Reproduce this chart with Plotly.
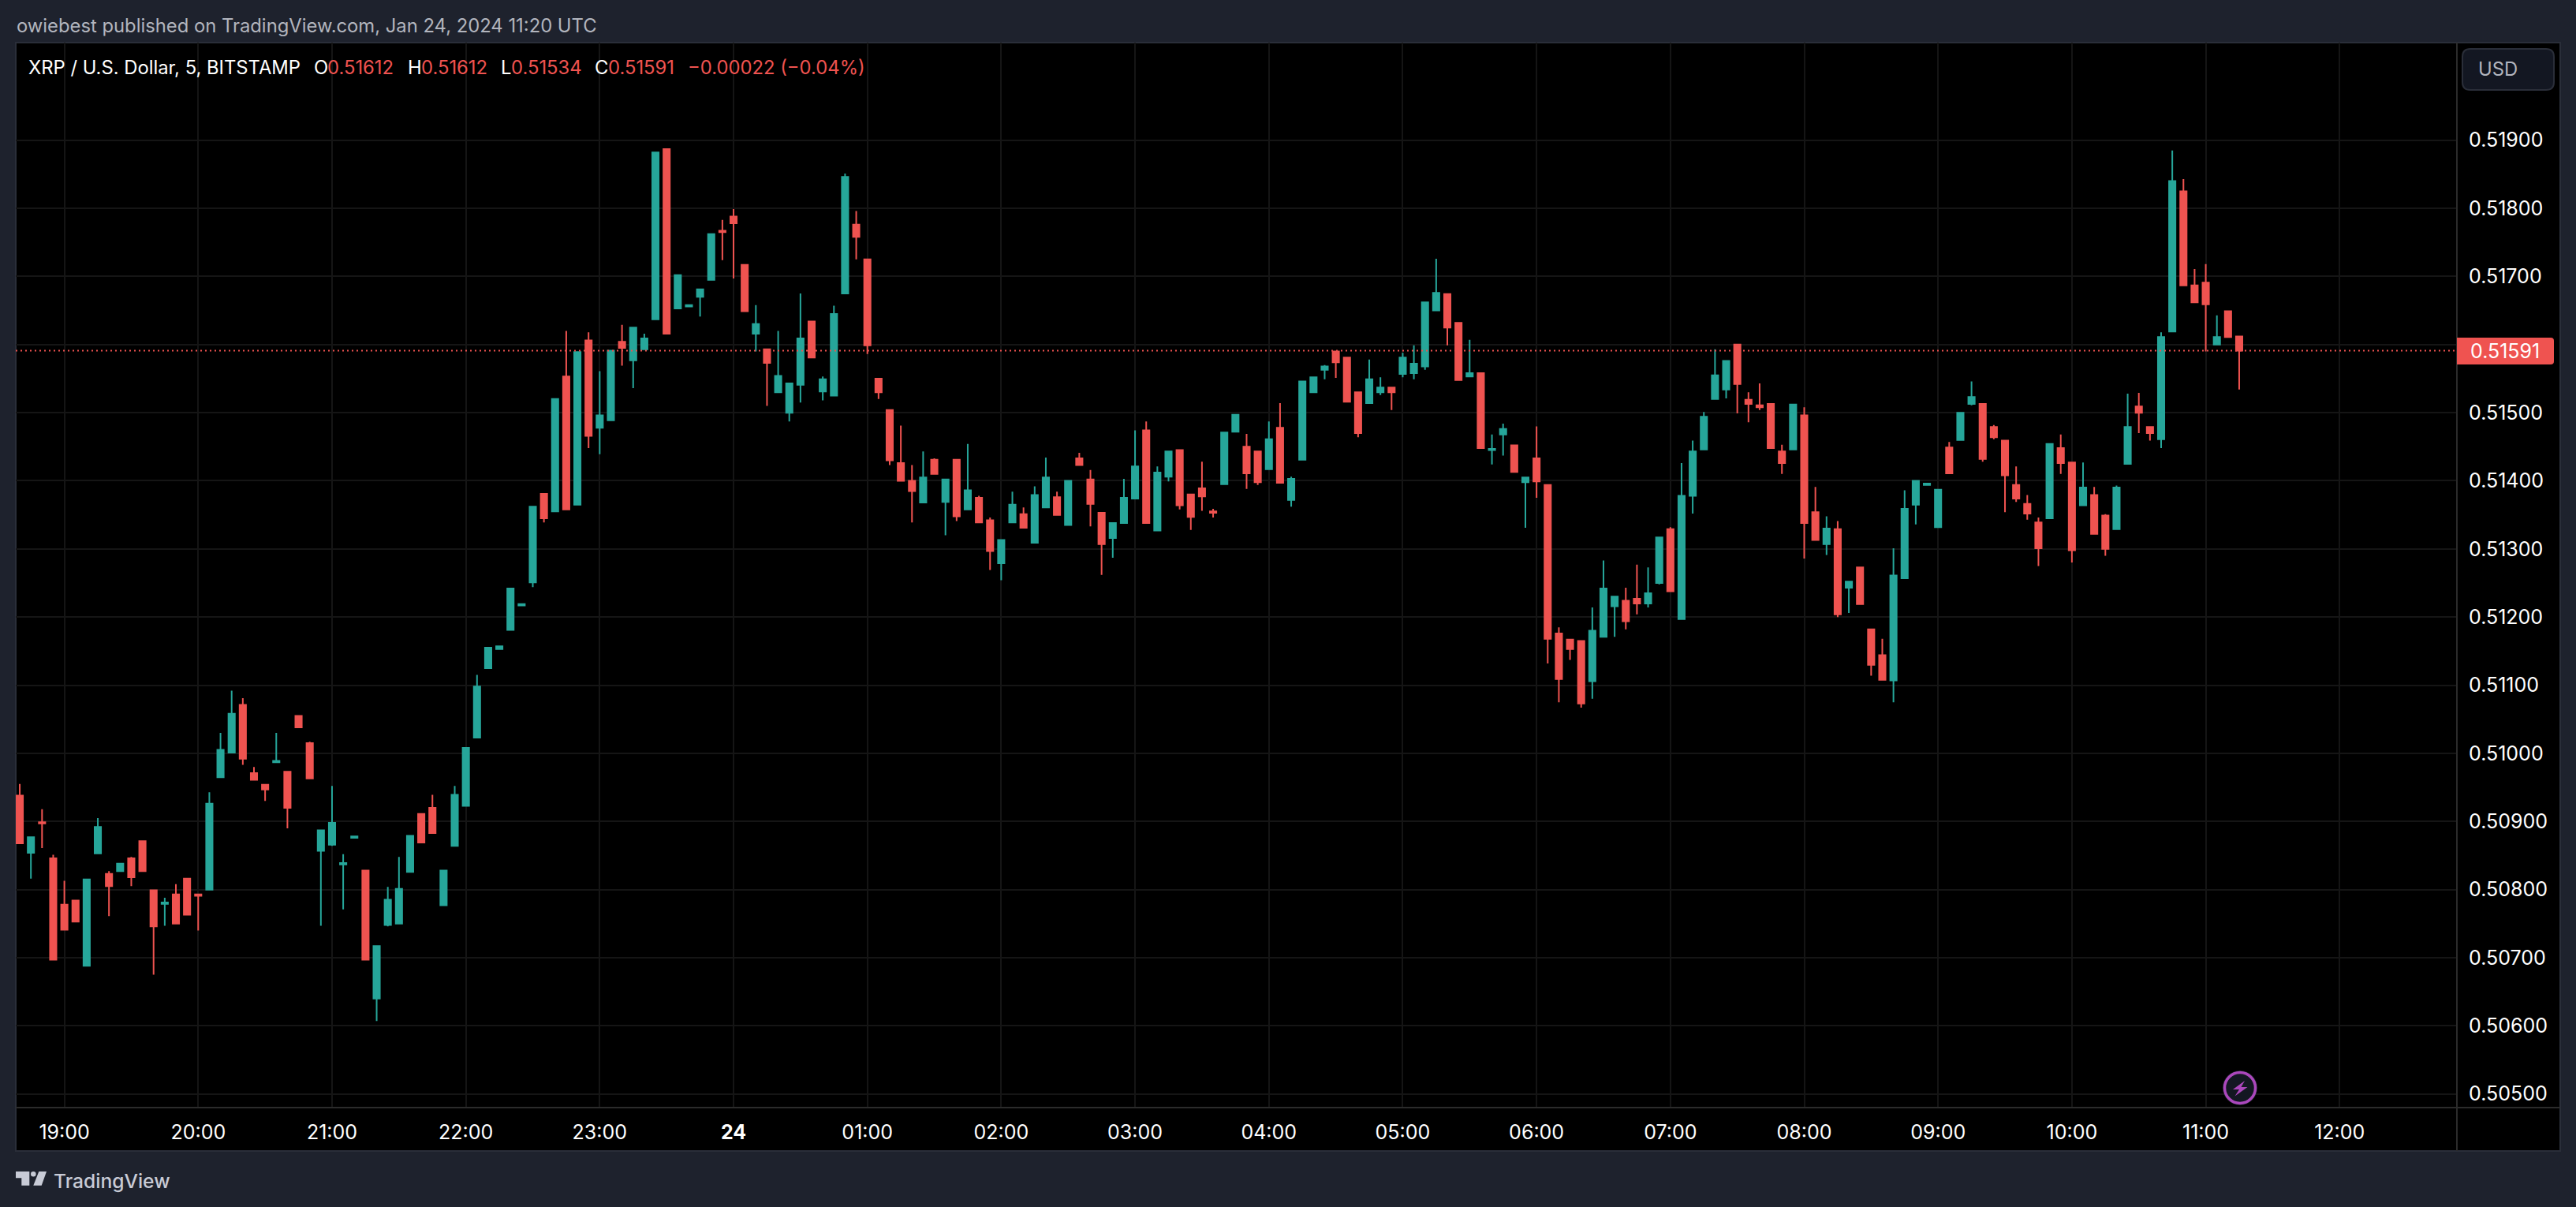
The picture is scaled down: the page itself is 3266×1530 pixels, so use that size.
import pandas as pd
import plotly.graph_objects as go

TIMES = pd.date_range("2024-01-23 18:40", periods=200, freq="5min")

OPENS = [
    0.50938, 0.50854, 0.50899, 0.50846, 0.50778, 0.50784, 0.50688, 0.50853, 0.50823, 0.50827,
    0.50846, 0.50871, 0.50799, 0.50779, 0.50793, 0.50816, 0.50793, 0.50800, 0.50965, 0.51001,
    0.51071, 0.50971, 0.50954, 0.50987, 0.50973, 0.51055, 0.51015, 0.50857, 0.50866, 0.50837,
    0.50876, 0.50828, 0.50640, 0.50748, 0.50750, 0.50826, 0.50911, 0.50920, 0.50777, 0.50864,
    0.50923, 0.51023, 0.51125, 0.51153, 0.51181, 0.51217, 0.51251, 0.51381, 0.51355, 0.51553,
    0.51365, 0.51606, 0.51478, 0.51489, 0.51604, 0.51577, 0.51593, 0.51637, 0.51887, 0.51653,
    0.51656, 0.51670, 0.51695, 0.51767, 0.51788, 0.51717, 0.51616, 0.51593, 0.51530, 0.51500,
    0.51541, 0.51634, 0.51531, 0.51525, 0.51675, 0.51776, 0.51725, 0.51550, 0.51504, 0.51426,
    0.51400, 0.51368, 0.51431, 0.51369, 0.51431, 0.51358, 0.51375, 0.51342, 0.51279, 0.51339,
    0.51351, 0.51309, 0.51361, 0.51376, 0.51335, 0.51433, 0.51402, 0.51353, 0.51316, 0.51338,
    0.51374, 0.51474, 0.51327, 0.51406, 0.51445, 0.51380, 0.51389, 0.51355, 0.51395, 0.51472,
    0.51450, 0.51443, 0.51417, 0.51478, 0.51372, 0.51431, 0.51530, 0.51563, 0.51590, 0.51581,
    0.51530, 0.51514, 0.51530, 0.51537, 0.51557, 0.51558, 0.51568, 0.51650, 0.51674, 0.51632,
    0.51553, 0.51558, 0.51445, 0.51468, 0.51452, 0.51398, 0.51433, 0.51394, 0.51176, 0.51167,
    0.51165, 0.51106, 0.51171, 0.51216, 0.51224, 0.51227, 0.51220, 0.51250, 0.51329, 0.51197,
    0.51378, 0.51446, 0.51520, 0.51534, 0.51600, 0.51519, 0.51511, 0.51513, 0.51443, 0.51446,
    0.51496, 0.51354, 0.51307, 0.51329, 0.51243, 0.51273, 0.51182, 0.51144, 0.51107, 0.51257,
    0.51365, 0.51394, 0.51332, 0.51449, 0.51460, 0.51513, 0.51513, 0.51479, 0.51459, 0.51394,
    0.51366, 0.51339, 0.51345, 0.51448, 0.51427, 0.51364, 0.51379, 0.51349, 0.51329, 0.51425,
    0.51509, 0.51479, 0.51461, 0.51619, 0.51825, 0.51687, 0.51691, 0.51600, 0.51649, 0.51612,
]
HIGHS = [
    0.50955, 0.50877, 0.50918, 0.50851, 0.50813, 0.50784, 0.50815, 0.50905, 0.50827, 0.50838,
    0.50848, 0.50872, 0.50799, 0.50788, 0.50808, 0.50816, 0.50793, 0.50943, 0.51030, 0.51092,
    0.51081, 0.50980, 0.50954, 0.51030, 0.50973, 0.51055, 0.51017, 0.50887, 0.50952, 0.50852,
    0.50878, 0.50828, 0.50717, 0.50804, 0.50848, 0.50879, 0.50911, 0.50939, 0.50828, 0.50952,
    0.51008, 0.51115, 0.51155, 0.51157, 0.51242, 0.51219, 0.51362, 0.51381, 0.51520, 0.51620,
    0.51589, 0.51618, 0.51561, 0.51591, 0.51629, 0.51625, 0.51616, 0.51882, 0.51887, 0.51702,
    0.51658, 0.51681, 0.51762, 0.51783, 0.51799, 0.51717, 0.51658, 0.51593, 0.51620, 0.51543,
    0.51675, 0.51634, 0.51553, 0.51657, 0.51851, 0.51796, 0.51725, 0.51550, 0.51504, 0.51481,
    0.51423, 0.51443, 0.51433, 0.51402, 0.51431, 0.51454, 0.51378, 0.51346, 0.51313, 0.51384,
    0.51361, 0.51392, 0.51434, 0.51384, 0.51400, 0.51441, 0.51416, 0.51353, 0.51338, 0.51403,
    0.51474, 0.51487, 0.51421, 0.51443, 0.51445, 0.51380, 0.51428, 0.51359, 0.51471, 0.51497,
    0.51469, 0.51443, 0.51487, 0.51514, 0.51406, 0.51546, 0.51553, 0.51570, 0.51591, 0.51581,
    0.51530, 0.51578, 0.51552, 0.51538, 0.51588, 0.51599, 0.51662, 0.51726, 0.51674, 0.51632,
    0.51607, 0.51558, 0.51468, 0.51484, 0.51452, 0.51405, 0.51480, 0.51394, 0.51185, 0.51168,
    0.51165, 0.51214, 0.51283, 0.51230, 0.51243, 0.51277, 0.51273, 0.51317, 0.51332, 0.51426,
    0.51459, 0.51501, 0.51593, 0.51576, 0.51600, 0.51530, 0.51543, 0.51513, 0.51453, 0.51512,
    0.51508, 0.51391, 0.51348, 0.51341, 0.51252, 0.51273, 0.51182, 0.51168, 0.51301, 0.51386,
    0.51400, 0.51396, 0.51387, 0.51457, 0.51500, 0.51546, 0.51513, 0.51482, 0.51459, 0.51421,
    0.51379, 0.51346, 0.51454, 0.51468, 0.51427, 0.51427, 0.51391, 0.51351, 0.51393, 0.51528,
    0.51529, 0.51480, 0.51618, 0.51885, 0.51843, 0.51711, 0.51718, 0.51643, 0.51649, 0.51612,
]
LOWS = [
    0.50868, 0.50816, 0.50861, 0.50697, 0.50741, 0.50753, 0.50688, 0.50853, 0.50761, 0.50827,
    0.50805, 0.50827, 0.50675, 0.50747, 0.50750, 0.50763, 0.50740, 0.50800, 0.50965, 0.51001,
    0.50983, 0.50961, 0.50930, 0.50986, 0.50890, 0.51038, 0.50963, 0.50747, 0.50864, 0.50771,
    0.50876, 0.50697, 0.50607, 0.50746, 0.50750, 0.50826, 0.50869, 0.50883, 0.50777, 0.50864,
    0.50923, 0.51023, 0.51125, 0.51153, 0.51181, 0.51217, 0.51244, 0.51339, 0.51355, 0.51358,
    0.51365, 0.51448, 0.51439, 0.51489, 0.51569, 0.51536, 0.51593, 0.51637, 0.51616, 0.51653,
    0.51656, 0.51641, 0.51695, 0.51724, 0.51697, 0.51649, 0.51590, 0.51510, 0.51530, 0.51487,
    0.51515, 0.51581, 0.51518, 0.51525, 0.51675, 0.51725, 0.51586, 0.51520, 0.51423, 0.51400,
    0.51339, 0.51368, 0.51410, 0.51320, 0.51341, 0.51358, 0.51339, 0.51269, 0.51254, 0.51339,
    0.51331, 0.51309, 0.51361, 0.51350, 0.51335, 0.51422, 0.51333, 0.51262, 0.51287, 0.51337,
    0.51374, 0.51338, 0.51327, 0.51399, 0.51358, 0.51328, 0.51356, 0.51346, 0.51395, 0.51472,
    0.51388, 0.51394, 0.51417, 0.51397, 0.51362, 0.51431, 0.51530, 0.51549, 0.51551, 0.51516,
    0.51464, 0.51514, 0.51526, 0.51504, 0.51552, 0.51549, 0.51563, 0.51650, 0.51599, 0.51548,
    0.51553, 0.51448, 0.51424, 0.51437, 0.51413, 0.51331, 0.51375, 0.51132, 0.51075, 0.51137,
    0.51067, 0.51080, 0.51171, 0.51171, 0.51182, 0.51204, 0.51214, 0.51248, 0.51238, 0.51197,
    0.51352, 0.51446, 0.51520, 0.51521, 0.51499, 0.51486, 0.51504, 0.51447, 0.51410, 0.51446,
    0.51286, 0.51313, 0.51291, 0.51200, 0.51206, 0.51219, 0.51114, 0.51108, 0.51075, 0.51257,
    0.51336, 0.51394, 0.51332, 0.51411, 0.51460, 0.51511, 0.51428, 0.51461, 0.51354, 0.51369,
    0.51343, 0.51275, 0.51345, 0.51410, 0.51280, 0.51364, 0.51322, 0.51290, 0.51329, 0.51425,
    0.51470, 0.51459, 0.51448, 0.51619, 0.51687, 0.51662, 0.51590, 0.51600, 0.51611, 0.51534,
]
CLOSES = [
    0.50868, 0.50877, 0.50897, 0.50697, 0.50741, 0.50753, 0.50815, 0.50892, 0.50805, 0.50838,
    0.50818, 0.50827, 0.50746, 0.50781, 0.50750, 0.50763, 0.50791, 0.50926, 0.51005, 0.51058,
    0.50992, 0.50961, 0.50947, 0.50989, 0.50920, 0.51038, 0.50963, 0.50887, 0.50898, 0.50839,
    0.50878, 0.50697, 0.50717, 0.50785, 0.50801, 0.50879, 0.50869, 0.50883, 0.50828, 0.50939,
    0.51008, 0.51098, 0.51155, 0.51157, 0.51242, 0.51219, 0.51362, 0.51345, 0.51520, 0.51358,
    0.51589, 0.51466, 0.51496, 0.51591, 0.51595, 0.51625, 0.51609, 0.51882, 0.51616, 0.51702,
    0.51658, 0.51681, 0.51762, 0.51765, 0.51778, 0.51649, 0.51630, 0.51573, 0.51554, 0.51543,
    0.51609, 0.51581, 0.51549, 0.51645, 0.51846, 0.51758, 0.51599, 0.51530, 0.51430, 0.51400,
    0.51385, 0.51405, 0.51410, 0.51402, 0.51348, 0.51386, 0.51339, 0.51297, 0.51313, 0.51365,
    0.51331, 0.51379, 0.51405, 0.51350, 0.51400, 0.51423, 0.51366, 0.51307, 0.51338, 0.51375,
    0.51421, 0.51338, 0.51412, 0.51443, 0.51364, 0.51347, 0.51377, 0.51353, 0.51471, 0.51497,
    0.51411, 0.51398, 0.51461, 0.51397, 0.51403, 0.51546, 0.51552, 0.51568, 0.51574, 0.51516,
    0.51470, 0.51549, 0.51537, 0.51530, 0.51581, 0.51572, 0.51662, 0.51676, 0.51625, 0.51548,
    0.51558, 0.51448, 0.51447, 0.51476, 0.51413, 0.51405, 0.51399, 0.51168, 0.51109, 0.51153,
    0.51073, 0.51180, 0.51242, 0.51230, 0.51194, 0.51220, 0.51235, 0.51317, 0.51238, 0.51378,
    0.51443, 0.51494, 0.51555, 0.51576, 0.51542, 0.51513, 0.51508, 0.51448, 0.51426, 0.51512,
    0.51338, 0.51313, 0.51330, 0.51204, 0.51252, 0.51219, 0.51130, 0.51108, 0.51261, 0.51359,
    0.51400, 0.51396, 0.51387, 0.51411, 0.51500, 0.51523, 0.51432, 0.51464, 0.51408, 0.51374,
    0.51352, 0.51301, 0.51454, 0.51426, 0.51298, 0.51390, 0.51322, 0.51300, 0.51390, 0.51479,
    0.51500, 0.51470, 0.51611, 0.51840, 0.51687, 0.51662, 0.51659, 0.51611, 0.51611, 0.51591,
]

PRICE_TICKS = [0.505, 0.506, 0.507, 0.508, 0.509, 0.510, 0.511, 0.512, 0.513, 0.514, 0.515, 0.516, 0.517, 0.518, 0.519]
PRICE_LABELS = ["0.50500", "0.50600", "0.50700", "0.50800", "0.50900", "0.51000", "0.51100", "0.51200",
                "0.51300", "0.51400", "0.51500", "", "0.51700", "0.51800", "0.51900"]
TIME_TICKS = ["2024-01-23 19:00", "2024-01-23 20:00", "2024-01-23 21:00", "2024-01-23 22:00", "2024-01-23 23:00",
              "2024-01-24 00:00", "2024-01-24 01:00", "2024-01-24 02:00", "2024-01-24 03:00", "2024-01-24 04:00",
              "2024-01-24 05:00", "2024-01-24 06:00", "2024-01-24 07:00", "2024-01-24 08:00", "2024-01-24 09:00",
              "2024-01-24 10:00", "2024-01-24 11:00", "2024-01-24 12:00"]
TIME_LABELS = ["19:00", "20:00", "21:00", "22:00", "23:00", "<b>24</b>", "01:00", "02:00", "03:00", "04:00",
               "05:00", "06:00", "07:00", "08:00", "09:00", "10:00", "11:00", "12:00"]
LAST_PRICE = 0.51591

W, H = 3266, 1530
LEFT, RIGHT, TOP, BOTTOM = 20, 3115, 54, 1404
FRAME_R, FRAME_B = 3246, 1459

GREEN = "#26a69a"
RED = "#ef5350"
BG = "#1e222d"
BORDER = "#2a2e39"
LOGO = "#c8cbd6"
FONT = "Inter"


def px(x):
    return (x - LEFT) / (RIGHT - LEFT)


def py(y):
    return 1 - (y - TOP) / (BOTTOM - TOP)


def label(x, y, text, color, size=23.8, anchor="left", weight=None):
    return dict(xref="paper", yref="paper", x=px(x - 2), y=py(y), text=text, showarrow=False,
                xanchor=anchor, yanchor="middle", font=dict(family=FONT, size=size, color=color, weight=weight))


def box(x0, y0, x1, y1, fill=None, line=None, width=2, layer="below"):
    return dict(type="rect", xref="paper", yref="paper", x0=px(x0), y0=py(y0), x1=px(x1), y1=py(y1),
                fillcolor=fill or "rgba(0,0,0,0)", line=dict(color=line or "rgba(0,0,0,0)", width=width), layer=layer)


def path(points, fill):
    d = "M" + " L".join(f"{px(x):.6f},{py(y):.6f}" for x, y in points) + " Z"
    return dict(type="path", xref="paper", yref="paper", path=d, fillcolor=fill, line=dict(width=0), layer="above")


def circle(cx, cy, r, fill, line=None, width=0):
    return dict(type="circle", xref="paper", yref="paper", x0=px(cx - r), x1=px(cx + r), y0=py(cy + r), y1=py(cy - r),
                fillcolor=fill, line=dict(color=line or "rgba(0,0,0,0)", width=width), layer="above")


def rounded(x0, y0, x1, y1, r, fill, line=None, radius_left=True):
    rl = r if radius_left else 0
    d = (f"M{px(x0 + rl):.6f},{py(y0):.6f} L{px(x1 - r):.6f},{py(y0):.6f} "
         f"Q{px(x1):.6f},{py(y0):.6f} {px(x1):.6f},{py(y0 + r):.6f} "
         f"L{px(x1):.6f},{py(y1 - r):.6f} Q{px(x1):.6f},{py(y1):.6f} {px(x1 - r):.6f},{py(y1):.6f} "
         f"L{px(x0 + rl):.6f},{py(y1):.6f} Q{px(x0):.6f},{py(y1):.6f} {px(x0):.6f},{py(y1 - rl):.6f} "
         f"L{px(x0):.6f},{py(y0 + rl):.6f} Q{px(x0):.6f},{py(y0):.6f} {px(x0 + rl):.6f},{py(y0):.6f} Z")
    return dict(type="path", xref="paper", yref="paper", path=d, fillcolor=fill,
                line=dict(color=line or "rgba(0,0,0,0)", width=2), layer="above")


fig = go.Figure(go.Candlestick(
    x=TIMES, open=OPENS, high=HIGHS, low=LOWS, close=CLOSES,
    increasing=dict(line=dict(color=GREEN, width=2), fillcolor=GREEN),
    decreasing=dict(line=dict(color=RED, width=2), fillcolor=RED),
    whiskerwidth=0, showlegend=False, hoverinfo="skip",
))

shapes = [
    box(LEFT, TOP, FRAME_R, FRAME_B, fill="#000000", line=BORDER),
    dict(type="line", xref="paper", yref="paper", x0=px(RIGHT), x1=px(RIGHT), y0=py(TOP), y1=py(FRAME_B),
         line=dict(color="#2b2b2b", width=2), layer="above"),
    dict(type="line", xref="paper", yref="paper", x0=px(LEFT), x1=px(FRAME_R), y0=py(BOTTOM), y1=py(BOTTOM),
         line=dict(color="#2b2b2b", width=2), layer="above"),
    dict(type="line", xref="paper", yref="y", x0=0, x1=1, y0=LAST_PRICE, y1=LAST_PRICE,
         line=dict(color=RED, width=2, dash="2px,4px"), layer="above"),
    rounded(3115, 428, 3238, 462, 4, RED, radius_left=False),
    rounded(3122, 62, 3238, 114, 10, "#131722", BORDER),
    # lightning badge
    circle(2840, 1379, 22, BG),
    circle(2840, 1379, 19.5, "#131722", "#ab47bc", 3.5),
    path([(2846, 1370), (2831, 1381), (2839, 1381), (2833.5, 1389.5), (2849.5, 1378), (2841.5, 1378)], "#ab47bc"),
    # TradingView mark
    path([(20, 1485), (37.3, 1485), (37.3, 1502.7), (27.3, 1502.7), (27.3, 1493.3), (20, 1493.3)], LOGO),
    circle(42.3, 1488.3, 3.3, LOGO),
    path([(49.3, 1485), (59, 1485), (52.7, 1502.7), (42.3, 1502.7)], LOGO),
]

annotations = [
    label(21, 32, "owiebest published on TradingView.com, Jan 24, 2024 11:20 UTC", "#b2b5be"),
    label(36, 86, "XRP / U.S. Dollar, 5, BITSTAMP", "#ffffff"),
    label(398, 86, "O", "#ffffff"),
    label(415, 86, "0.51612", RED),
    label(517, 86, "H", "#ffffff"),
    label(534, 86, "0.51612", RED),
    label(635, 86, "L", "#ffffff"),
    label(648, 86, "0.51534", RED),
    label(754, 86, "C", "#ffffff"),
    label(771, 86, "0.51591", RED),
    label(872, 86, "\u22120.00022 (\u22120.04%)", RED),
    label(3142, 87, "USD", "#b2b5be"),
    label(3132, 445, "0.51591", "#ffffff", 25),
    label(68, 1497, "TradingView", LOGO, 24.6, weight=500),
]

fig.update_layout(
    width=W, height=H,
    margin=dict(l=LEFT, r=W - RIGHT, t=TOP, b=H - BOTTOM, autoexpand=False),
    paper_bgcolor=BG, plot_bgcolor="#000000",
    boxgap=0.43, boxgroupgap=0, showlegend=False,
    shapes=shapes, annotations=annotations,
    font=dict(family=FONT, color="#ffffff", size=25),
)
fig.update_xaxes(
    range=["2024-01-23 18:38:13", "2024-01-24 12:52:36"], rangeslider=dict(visible=False),
    tickmode="array", tickvals=TIME_TICKS, ticktext=TIME_LABELS, tickangle=0,
    showgrid=True, gridcolor="#151515", gridwidth=2, zeroline=False, showline=False,
    ticks="", ticklabelstandoff=14, tickfont=dict(family=FONT, size=25, color="#ffffff"),
)
fig.update_yaxes(
    range=[0.5047997, 0.5204324], side="right",
    tickmode="array", tickvals=PRICE_TICKS, ticktext=PRICE_LABELS,
    showgrid=True, gridcolor="#151515", gridwidth=2, zeroline=False, showline=False,
    ticks="", ticklabelstandoff=14, tickfont=dict(family=FONT, size=25, color="#ffffff"),
)

fig.write_html("out.html", config={"displayModeBar": False},
               post_script="document.body.style.margin='0';document.body.style.overflow='hidden';")
